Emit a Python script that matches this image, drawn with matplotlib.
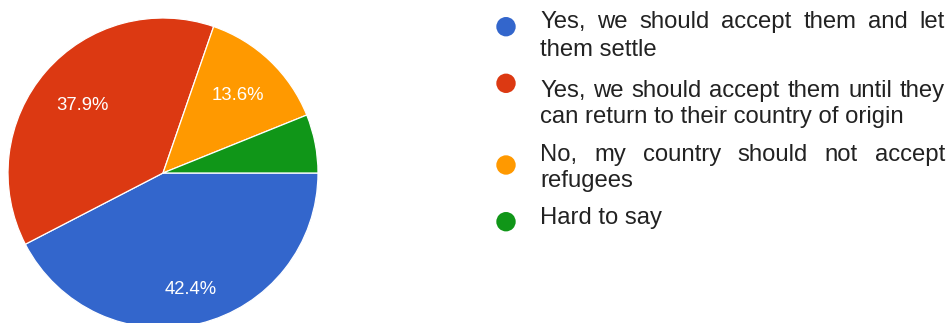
import math
import matplotlib
matplotlib.use("Agg")
import matplotlib.pyplot as plt
from matplotlib.patches import Circle

# Survey answers and their shares (percent)
categories = [
    "Yes, we should accept them and let them settle",
    "Yes, we should accept them until they can return to their country of origin",
    "No, my country should not accept refugees",
    "Hard to say",
]
shares = [42.4, 37.9, 13.6, 6.1]
colors = ["#3366CC", "#DC3912", "#FF9900", "#109618"]

# Line breaks used when writing each answer in the legend
legend_lines = [
    ["Yes, we should accept them and let", "them settle"],
    ["Yes, we should accept them until they", "can return to their country of origin"],
    ["No, my country should not accept", "refugees"],
    ["Hard to say"],
]

W, H = 950, 323
fig = plt.figure(figsize=(W / 100, H / 100), dpi=100)
ax = fig.add_axes([0, 0, 1, 1])

FONT = "Liberation Sans"
TEXT_COLOR = "#222222"


def py(y):
    """Convert a top-down pixel row to the axes' bottom-up y."""
    return H - y


CX, CY, R = 163, py(173), 155
wedges, _ = ax.pie(
    shares,
    colors=colors,
    startangle=0,
    counterclock=False,
    center=(CX, CY),
    radius=R,
    wedgeprops=dict(edgecolor="white", linewidth=0.9),
)

# Percentage labels inside the larger slices
LBL_FS = 13.3
label_dist = [0.76, 0.685, 0.705, 0.7]
for w, p, d in zip(wedges, shares, label_dist):
    if p < 10:
        continue
    th = math.radians((w.theta1 + w.theta2) / 2)
    x = CX + d * R * math.cos(th)
    y = CY + d * R * math.sin(th)
    # put the visual middle of the digits on the anchor point
    ax.text(x, y - 0.358 * LBL_FS * 100 / 72, f"{p:.1f}%", color="white",
            fontsize=LBL_FS, family=FONT, ha="center", va="baseline")

ax.set_xlim(0, W)
ax.set_ylim(0, H)
ax.set_aspect("equal")
ax.axis("off")

renderer = fig.canvas.get_renderer()
LEG_FS = 17.2
X0, X1 = 540, 945


def draw_line(text, y, justify):
    if not justify:
        ax.text(X0, py(y), text, fontsize=LEG_FS, family=FONT, color=TEXT_COLOR,
                ha="left", va="baseline")
        return
    words = text.split(" ")
    items = [ax.text(0, py(y), w, fontsize=LEG_FS, family=FONT, color=TEXT_COLOR,
                     ha="left", va="baseline") for w in words]
    widths = [t.get_window_extent(renderer).width for t in items]
    gap = (X1 - X0 - sum(widths)) / (len(words) - 1)
    x = X0
    for t, w in zip(items, widths):
        t.set_x(x)
        x += w + gap


# Legend: a dot and the answer text (first line justified when wrapped)
baselines = [[28.3, 55.5], [96.7, 123.3], [160.7, 186.7], [224.0]]
dot_rows = [26.7, 83.3, 165.0, 221.7]
for lines, rows, dot_y, c in zip(legend_lines, baselines, dot_rows, colors):
    ax.add_patch(Circle((506, py(dot_y)), 9.7, color=c, lw=0))
    for i, (ln, yb) in enumerate(zip(lines, rows)):
        draw_line(ln, yb, justify=(i < len(lines) - 1))

fig.savefig("out.png", dpi=100)
